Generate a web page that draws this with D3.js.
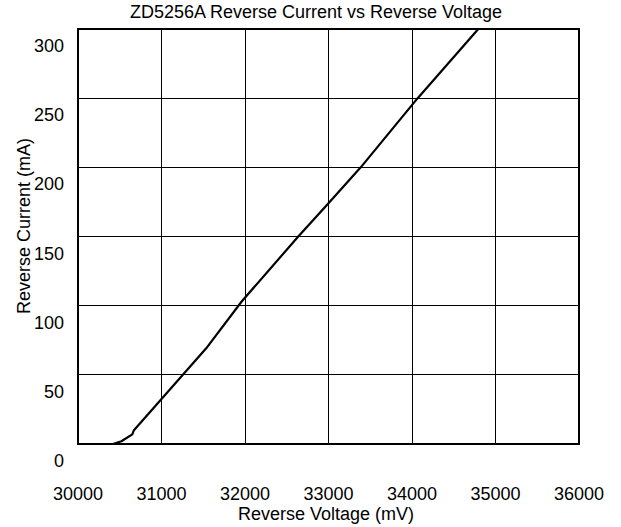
<!DOCTYPE html>
<html>
<head>
<meta charset="utf-8">
<script src="https://cdn.jsdelivr.net/npm/d3@7"></script>
<style>
  html, body { margin: 0; padding: 0; background: #fff; }
  text { font-family: "Liberation Sans", Arial, sans-serif; fill: #000; }
</style>
</head>
<body>
<svg id="chart" width="621" height="527"></svg>
<script>
// Reverse voltage (mV) and reverse current (mA) of the ZD5256A zener diode
const voltage = [30419, 30520, 30650, 30670, 31000, 31533, 31960, 32638, 33000, 33386, 34068, 34794];
const current = [0, 2, 7, 10, 32.5, 69, 103, 150, 174, 200, 250, 300];

const xTicks = [30000, 31000, 32000, 33000, 34000, 35000, 36000];
const yTicks = [0, 50, 100, 150, 200, 250, 300];

const titleText = "ZD5256A Reverse Current vs Reverse Voltage";
const xTitle = "Reverse Voltage (mV)";
const yTitle = "Reverse Current (mA)";

const svg = d3.select("#chart");
const m = { left: 78, right: 42, top: 29, bottom: 83 };
const W = 621, H = 527;
const fs = 18;

const x = d3.scaleLinear().domain([30000, 36000]).range([m.left, W - m.right]);
const y = d3.scaleLinear().domain([0, 300]).range([H - m.bottom, m.top]);

// grid
const grid = svg.append("g").attr("stroke", "#000").attr("stroke-width", 1).attr("shape-rendering", "crispEdges");
grid.selectAll("line.v").data(xTicks).join("line")
  .attr("x1", d => x(d)).attr("x2", d => x(d))
  .attr("y1", y(0)).attr("y2", y(300));
grid.selectAll("line.h").data(yTicks).join("line")
  .attr("x1", x(30000)).attr("x2", x(36000))
  .attr("y1", d => y(d)).attr("y2", d => y(d));

// frame
svg.append("rect")
  .attr("x", x(30000)).attr("y", y(300))
  .attr("width", x(36000) - x(30000)).attr("height", y(0) - y(300))
  .attr("fill", "none").attr("stroke", "#000").attr("stroke-width", 1.5)
  .attr("shape-rendering", "crispEdges");

// tick labels
svg.append("g").selectAll("text").data(xTicks).join("text")
  .attr("x", d => x(d)).attr("y", 500)
  .attr("text-anchor", "middle").attr("font-size", fs)
  .text(d => d);
svg.append("g").selectAll("text").data(yTicks).join("text")
  .attr("x", 64).attr("y", d => y(d) + 23)
  .attr("text-anchor", "end").attr("font-size", fs)
  .text(d => d);

// titles
svg.append("text").attr("x", 316).attr("y", 18).attr("text-anchor", "middle")
  .attr("font-size", fs).text(titleText);
svg.append("text").attr("x", 326).attr("y", 520).attr("text-anchor", "middle")
  .attr("font-size", fs).text(xTitle);
svg.append("text").attr("transform", "translate(30,226) rotate(-90)")
  .attr("text-anchor", "middle").attr("font-size", fs).text(yTitle);

// curve
const pts = voltage.map((v, i) => [v, current[i]]);
svg.append("path").datum(pts)
  .attr("fill", "none").attr("stroke", "#000").attr("stroke-width", 2.2)
  .attr("stroke-linejoin", "round")
  .attr("d", d3.line().x(d => x(d[0])).y(d => y(d[1])));
</script>
</body>
</html>
